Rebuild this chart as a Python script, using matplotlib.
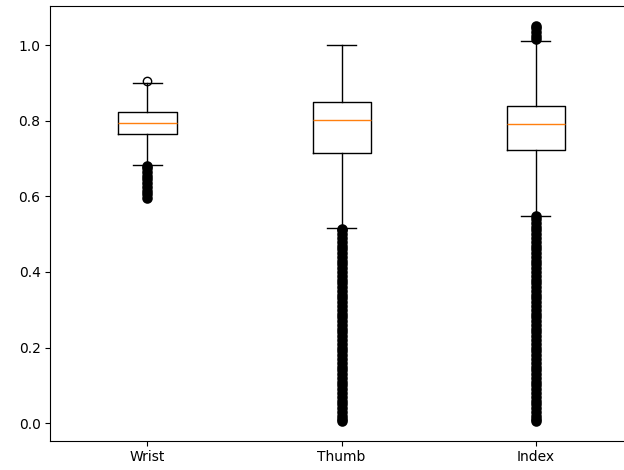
import matplotlib
matplotlib.use("Agg")
import matplotlib.pyplot as plt

# Per-joint summary statistics (confidence scores)
joints = ["Wrist", "Thumb", "Index"]
medians = [0.793, 0.802, 0.792]
q1 = [0.765, 0.714, 0.724]
q3 = [0.822, 0.849, 0.839]
whisker_low = [0.683, 0.517, 0.549]
whisker_high = [0.901, 1.000, 1.011]

# Outliers beyond the whiskers
wrist_fliers_low = [
    0.597, 0.605, 0.615, 0.625, 0.635, 0.645, 0.655, 0.665, 0.675, 0.680,
]
wrist_fliers_high = [0.905]
thumb_fliers = [
    0.006, 0.01, 0.02, 0.03, 0.04, 0.05, 0.06, 0.07, 0.08, 0.09, 0.10,
    0.11, 0.12, 0.13, 0.14, 0.15, 0.16, 0.17, 0.18, 0.19, 0.20,
    0.21, 0.22, 0.23, 0.24, 0.25, 0.26, 0.27, 0.28, 0.29, 0.30,
    0.31, 0.32, 0.33, 0.34, 0.35, 0.36, 0.37, 0.38, 0.39, 0.40,
    0.41, 0.42, 0.43, 0.44, 0.45, 0.46, 0.47, 0.48, 0.49, 0.50,
    0.51, 0.515,
]
index_fliers = [
    0.006, 0.01, 0.02, 0.03, 0.04, 0.05, 0.06, 0.07, 0.08, 0.09, 0.10,
    0.11, 0.12, 0.13, 0.14, 0.15, 0.16, 0.17, 0.18, 0.19, 0.20,
    0.21, 0.22, 0.23, 0.24, 0.25, 0.26, 0.27, 0.28, 0.29, 0.30,
    0.31, 0.32, 0.33, 0.34, 0.35, 0.36, 0.37, 0.38, 0.39, 0.40,
    0.41, 0.42, 0.43, 0.44, 0.45, 0.46, 0.47, 0.48, 0.49, 0.50,
    0.51, 0.52, 0.53, 0.54, 0.547,
    1.017, 1.025, 1.035, 1.045, 1.052,
]
fliers = [wrist_fliers_low, thumb_fliers, index_fliers]

stats = []
for i, name in enumerate(joints):
    stats.append({
        "label": name,
        "med": medians[i],
        "q1": q1[i],
        "q3": q3[i],
        "whislo": whisker_low[i],
        "whishi": whisker_high[i],
        "fliers": fliers[i],
    })

fig = plt.figure(figsize=(6.24, 4.70), dpi=100)
ax = fig.add_axes([0.0806, 0.0623, 0.9338, 0.9255])

parts = ax.bxp(stats, widths=0.3)

# dense outlier bands render as solid black
for line in parts["fliers"]:
    line.set_markerfacecolor("black")
    line.set_markeredgewidth(1.6)

# lone high wrist outlier stays hollow
ax.plot([1] * len(wrist_fliers_high), wrist_fliers_high, "o",
        markerfacecolor="none", markeredgecolor="black")

ax.set_xlim(0.5, 3.5)

fig.savefig("out.png", dpi=100)
